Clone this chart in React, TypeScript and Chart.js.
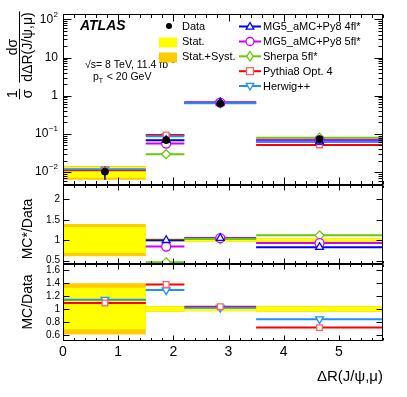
import React, { useEffect, useRef } from "react";
import { Chart, registerables } from "chart.js";
Chart.register(...registerables);

// ---------------- data ----------------
const binLo = [0, 1.5, 2.2, 3.5];
const binHi = [1.5, 2.2, 3.5, 5.8];
const markerX = [0.76, 1.87, 2.85, 4.65];

const dataXs = [0.0103, 0.069, 0.63, 0.072];
const statUp = [1.325, 1.04, 1.03, 1.04];
const statDn = [0.69, 0.96, 0.97, 0.96];
const totUp = [1.395, 1.045, 1.035, 1.045];
const totDn = [0.61, 0.955, 0.965, 0.955];

const mg4flXs = [null, 0.0685, 0.66, 0.063];
const mg5flXs = [null, 0.056, 0.66, 0.069];
const sherpaXs = [null, 0.0295, 0.65, 0.08];
const pythiaXs = [0.0112, 0.094, 0.65, 0.0515];
const herwigXs = [0.0118, 0.087, 0.64, 0.061];

const mg4flRatio = [null, 1.0, 1.05, 0.83];
const mg5flRatio = [null, 0.845, 1.05, 0.93];
const sherpaRatio = [null, 0.46, 1.03, 1.12];
const pythiaRatio = [1.093, 1.376, 1.036, 0.715];
const herwigRatio = [1.144, 1.29, 1.02, 0.845];

const seriesNames = ["MG5_aMC+Py8 4fl*", "MG5_aMC+Py8 5fl*", "Sherpa 5fl*", "Pythia8 Opt. 4", "Herwig++"];
const lineColors = ["#0000ff", "#cc00ff", "#66cc00", "#ff0000", "#1e90ff"];
const markColors = ["#0000ff", "#cc00ff", "#66cc00", "#ff6060", "#1e90ff"];
const markStyles = ["triangle", "circle", "rectRot", "rect", "triangle"];
const markRot = [0, 0, 0, 0, 180];

const xTickVals = [0, 1, 2, 3, 4, 5];
const xTickLabels = ["0", "1", "2", "3", "4", "5"];
const topTickVals = [0.01, 0.1, 1, 10, 100];
const topTickBase = ["10", "10", "1", "10", "10"];
const topTickExp = ["\u22122", "\u22121", "", "", "2"];
const midTickVals = [0.5, 1, 1.5, 2];
const midTickLabels = ["0.5", "1", "1.5", "2"];
const botTickVals = [0.6, 0.8, 1, 1.2, 1.4, 1.6];
const botTickLabels = ["0.6", "0.8", "1", "1.2", "1.4", "1.6"];

const FONT = '"Liberation Sans", Arial, Helvetica, sans-serif';

function segs(vals: (number | null)[]) {
  const out: any[] = [];
  vals.forEach((v, i) => {
    if (v == null) return;
    out.push({ x: binLo[i], y: v }, { x: binHi[i], y: v }, { x: binHi[i], y: null });
  });
  return out;
}
function marks(vals: (number | null)[]) {
  const out: any[] = [];
  vals.forEach((v, i) => {
    if (v == null) return;
    out.push({ x: markerX[i], y: v });
  });
  return out;
}

function buildDatasets() {
  const ds: any[] = [];
  ds.push({
    type: "line",
    data: marks(dataXs),
    yAxisID: "yTop",
    showLine: false,
    pointStyle: "circle",
    pointRadius: 3.5,
    pointBackgroundColor: "#000",
    pointBorderColor: "#000",
    pointBorderWidth: 1,
  });
  const topVals = [mg4flXs, mg5flXs, sherpaXs, pythiaXs, herwigXs];
  const ratioVals = [mg4flRatio, mg5flRatio, sherpaRatio, pythiaRatio, herwigRatio];
  const ratioAxis = ["yMid", "yMid", "yMid", "yBot", "yBot"];
  const markerSets: any[] = [];
  const lineSets: any[] = [];
  for (let k = 0; k < 5; k++) {
    const pairs: [any[], string][] = [
      [topVals[k], "yTop"],
      [ratioVals[k], ratioAxis[k]],
    ];
    for (const [vals, axis] of pairs) {
      markerSets.push({
        type: "line",
        data: marks(vals),
        yAxisID: axis,
        showLine: false,
        pointStyle: markStyles[k],
        rotation: markRot[k],
        pointRadius: markStyles[k] === "rect" ? 4 : 4.5,
        pointBackgroundColor: "#ffffff",
        pointBorderColor: markColors[k],
        pointBorderWidth: 1.3,
      });
      lineSets.push({
        type: "line",
        data: segs(vals),
        yAxisID: axis,
        borderColor: lineColors[k],
        borderWidth: 2,
        pointRadius: 0,
        spanGaps: false,
        fill: false,
      });
    }
  }
  return ds.concat(markerSets, lineSets.reverse());
}

function drawMarker(ctx: CanvasRenderingContext2D, style: string, rot: number, x: number, y: number, r: number, color: string) {
  ctx.save();
  ctx.strokeStyle = color;
  ctx.fillStyle = "#fff";
  ctx.lineWidth = 1.3;
  ctx.beginPath();
  if (style === "circle") {
    ctx.arc(x, y, r, 0, Math.PI * 2);
  } else if (style === "rect") {
    ctx.rect(x - r, y - r, 2 * r, 2 * r);
  } else if (style === "rectRot") {
    ctx.moveTo(x, y - r * 1.2);
    ctx.lineTo(x + r * 0.8, y);
    ctx.lineTo(x, y + r * 1.2);
    ctx.lineTo(x - r * 0.8, y);
    ctx.closePath();
  } else {
    const s = rot === 180 ? -1 : 1;
    ctx.moveTo(x, y - s * r);
    ctx.lineTo(x + r * 0.95, y + s * r * 0.65);
    ctx.lineTo(x - r * 0.95, y + s * r * 0.65);
    ctx.closePath();
  }
  ctx.fill();
  ctx.stroke();
  ctx.restore();
}

const panelPlugin = {
  id: "atlasPanels",
  beforeDatasetsDraw(chart: any) {
    const { ctx, chartArea } = chart;
    const xs = chart.scales.x;
    const panels: [string, boolean][] = [["yTop", true], ["yMid", false], ["yBot", false]];
    for (const [id, isTop] of panels) {
      const s = chart.scales[id];
      ctx.save();
      ctx.beginPath();
      ctx.rect(chartArea.left, s.top, chartArea.right - chartArea.left, s.bottom - s.top);
      ctx.clip();
      for (let i = 0; i < binLo.length; i++) {
        const x0 = xs.getPixelForValue(binLo[i]);
        const x1 = xs.getPixelForValue(binHi[i]);
        const base = isTop ? dataXs[i] : 1;
        const oT = s.getPixelForValue(base * totUp[i]);
        const oB = s.getPixelForValue(base * totDn[i]);
        ctx.fillStyle = "#ffcc00";
        ctx.fillRect(x0, oT, x1 - x0, oB - oT);
        const yT = s.getPixelForValue(base * statUp[i]);
        const yB = s.getPixelForValue(base * statDn[i]);
        ctx.fillStyle = "#ffff00";
        ctx.fillRect(x0, yT, x1 - x0, yB - yT);
      }
      if (isTop) {
        ctx.strokeStyle = "#000";
        ctx.lineWidth = 1.5;
        for (let i = 0; i < binLo.length; i++) {
          const xm = xs.getPixelForValue(markerX[i]);
          ctx.beginPath();
          ctx.moveTo(xm, s.getPixelForValue(dataXs[i] * totUp[i]));
          ctx.lineTo(xm, s.getPixelForValue(dataXs[i] * totDn[i]));
          ctx.stroke();
        }
      }
      ctx.restore();
    }
  },
  afterDraw(chart: any) {
    const { ctx, chartArea } = chart;
    const xs = chart.scales.x;
    const L = Math.round(chartArea.left) + 0.5;
    const R = Math.round(chartArea.right) - 0.5;
    ctx.save();
    ctx.strokeStyle = "#000";
    ctx.fillStyle = "#000";
    ctx.lineWidth = 1;

    const panels: [string, number][] = [["yTop", 0], ["yMid", 1], ["yBot", 2]];
    for (const [id, p] of panels) {
      const s = chart.scales[id];
      const T = Math.round(s.top) + 0.5;
      const B = Math.round(s.bottom) - 0.5;
      ctx.strokeRect(L, T, R - L, B - T);
      const majL = p === 0 ? 7 : 5;
      const minL = p === 0 ? 3.5 : 2.5;
      ctx.beginPath();
      for (let k = 0; k <= 29; k++) {
        const v = k * 0.2;
        if (v > 5.8001) break;
        const x = Math.round(xs.getPixelForValue(v)) + 0.5;
        const len = k % 5 === 0 ? majL : minL;
        ctx.moveTo(x, B);
        ctx.lineTo(x, B - len);
        ctx.moveTo(x, T);
        ctx.lineTo(x, T + len);
      }
      ctx.stroke();
      // y ticks
      ctx.beginPath();
      if (p === 0) {
        for (let d = -3; d <= 2; d++) {
          for (let m = 1; m <= 9; m++) {
            const v = m * Math.pow(10, d);
            if (v < s.min || v > s.max) continue;
            const y = Math.round(s.getPixelForValue(v)) + 0.5;
            const len = m === 1 ? 8 : 4;
            ctx.moveTo(L, y);
            ctx.lineTo(L + len, y);
            ctx.moveTo(R, y);
            ctx.lineTo(R - len, y);
          }
        }
      } else {
        const vals = p === 1 ? midTickVals : botTickVals;
        for (const v of vals) {
          const y = Math.round(s.getPixelForValue(v)) + 0.5;
          ctx.moveTo(L, y);
          ctx.lineTo(L + 6, y);
          ctx.moveTo(R, y);
          ctx.lineTo(R - 6, y);
        }
      }
      ctx.stroke();
      // y tick labels
      ctx.textBaseline = "middle";
      if (p === 0) {
        for (let i = 0; i < topTickVals.length; i++) {
          const y = s.getPixelForValue(topTickVals[i]);
          ctx.font = `12px ${FONT}`;
          const wb = ctx.measureText(topTickBase[i]).width;
          ctx.font = `8px ${FONT}`;
          const we = topTickExp[i] ? ctx.measureText(topTickExp[i]).width + 0.5 : 0;
          const right = 58;
          ctx.textAlign = "left";
          ctx.font = `12px ${FONT}`;
          ctx.fillText(topTickBase[i], right - we - wb, y);
          if (topTickExp[i]) {
            ctx.font = `8px ${FONT}`;
            ctx.fillText(topTickExp[i], right - we + 0.5, y - 5);
          }
        }
      } else {
        const vals = p === 1 ? midTickVals : botTickVals;
        const labs = p === 1 ? midTickLabels : botTickLabels;
        ctx.font = `10px ${FONT}`;
        ctx.textAlign = "right";
        for (let i = 0; i < vals.length; i++) {
          ctx.fillText(labs[i], 60, s.getPixelForValue(vals[i]));
        }
      }
    }

    // x tick labels
    ctx.font = `14px ${FONT}`;
    ctx.textAlign = "center";
    ctx.textBaseline = "middle";
    for (let i = 0; i < xTickVals.length; i++) {
      ctx.fillText(xTickLabels[i], xs.getPixelForValue(xTickVals[i]), 352);
    }
    // x title
    ctx.font = `15px ${FONT}`;
    ctx.textAlign = "right";
    ctx.fillText("\u0394R(J/\u03c8,\u03bc)", 383, 377);

    // ratio y titles
    const drawRot = (txt: string, cx: number, cy: number, size: number) => {
      ctx.save();
      ctx.translate(cx, cy);
      ctx.rotate(-Math.PI / 2);
      ctx.font = `${size}px ${FONT}`;
      ctx.textAlign = "center";
      ctx.textBaseline = "middle";
      ctx.fillText(txt, 0, 0);
      ctx.restore();
    };
    drawRot("MC*/Data", 28, 229, 14);
    drawRot("MC/Data", 28, 302, 14);

    // main y title: (1/sigma) dsigma/dDeltaR
    const frac = (num: string, den: string, cx: number, cy: number, size: number) => {
      ctx.save();
      ctx.translate(cx, cy);
      ctx.rotate(-Math.PI / 2);
      ctx.font = `${size}px ${FONT}`;
      ctx.textAlign = "center";
      const w = Math.max(ctx.measureText(num).width, ctx.measureText(den).width);
      ctx.textBaseline = "alphabetic";
      ctx.fillText(num, 0, -3);
      ctx.textBaseline = "top";
      ctx.fillText(den, 0, 2);
      ctx.lineWidth = 1;
      ctx.beginPath();
      ctx.moveTo(-w / 2 - 1, 0);
      ctx.lineTo(w / 2 + 1, 0);
      ctx.stroke();
      ctx.restore();
    };
    frac("d\u03c3", "d\u0394R(J/\u03c8,\u03bc)", 19.5, 47, 14);
    frac("1", "\u03c3", 19.5, 94, 14);

    // ATLAS label & texts
    ctx.textAlign = "left";
    ctx.textBaseline = "middle";
    ctx.font = `italic bold 14px ${FONT}`;
    ctx.fillText("ATLAS", 80, 26);
    ctx.font = `10.5px ${FONT}`;
    const t1 = "\u221as= 8 TeV, 11.4 fb";
    ctx.fillText(t1, 85, 65);
    const w1 = ctx.measureText(t1).width;
    ctx.font = `7px ${FONT}`;
    ctx.fillText("-1", 85 + w1 + 0.5, 61);
    ctx.font = `10.5px ${FONT}`;
    ctx.fillText("p", 93, 77);
    const wp = ctx.measureText("p").width;
    ctx.font = `7px ${FONT}`;
    ctx.fillText("T", 93 + wp, 81);
    ctx.font = `10.5px ${FONT}`;
    ctx.fillText(" < 20 GeV", 93 + wp + 5, 77);

    // legend left column
    ctx.font = `11px ${FONT}`;
    ctx.beginPath();
    ctx.arc(169, 26, 3, 0, Math.PI * 2);
    ctx.fill();
    ctx.fillText("Data", 182, 26.5);
    ctx.fillStyle = "#ffff00";
    ctx.fillRect(159, 37.5, 18, 10);
    ctx.fillStyle = "#ffcc00";
    ctx.fillRect(159, 52.5, 18, 10);
    ctx.fillStyle = "#000";
    ctx.fillText("Stat.", 182, 42);
    ctx.fillText("Stat.+Syst.", 182, 57);
    // legend right column
    const rowY = [26.5, 41.5, 56.3, 71.2, 86];
    for (let k = 0; k < 5; k++) {
      const y = rowY[k];
      ctx.strokeStyle = lineColors[k];
      ctx.lineWidth = 2;
      ctx.beginPath();
      ctx.moveTo(239, y);
      ctx.lineTo(261, y);
      ctx.stroke();
      drawMarker(ctx, markStyles[k], markRot[k], 250, y, markStyles[k] === "rect" ? 3.5 : 4, markColors[k]);
      ctx.fillStyle = "#000";
      ctx.font = `11px ${FONT}`;
      ctx.fillText(seriesNames[k], 263, y + 0.5);
    }
    ctx.restore();
  },
};

export default function App() {
  const ref = useRef<HTMLCanvasElement | null>(null);
  useEffect(() => {
    if (!ref.current) return;
    const hidden = {
      ticks: { display: false },
      grid: { display: false },
      border: { display: false },
    };
    const chart = new Chart(ref.current, {
      type: "line",
      data: { datasets: buildDatasets() },
      options: {
        animation: false,
        responsive: false,
        devicePixelRatio: 1,
        events: [],
        layout: { padding: { top: 14, right: 24, left: 0, bottom: 0 } },
        plugins: { legend: { display: false }, tooltip: { enabled: false } },
        scales: {
          x: {
            type: "linear",
            min: 0,
            max: 5.8,
            ...hidden,
            afterFit: (s: any) => {
              s.height = 56;
            },
          },
          yBot: {
            type: "linear",
            position: "left",
            stack: "panels",
            stackWeight: 77,
            min: 0.51,
            max: 1.69,
            ...hidden,
            afterFit: (s: any) => {
              s.width = 63;
            },
          },
          yMid: {
            type: "linear",
            position: "left",
            stack: "panels",
            stackWeight: 79,
            min: 0.42,
            max: 2.35,
            ...hidden,
            afterFit: (s: any) => {
              s.width = 63;
            },
          },
          yTop: {
            type: "logarithmic",
            position: "left",
            stack: "panels",
            stackWeight: 171,
            min: 0.0046,
            max: 138,
            ...hidden,
            afterFit: (s: any) => {
              s.width = 63;
            },
          },
        },
      } as any,
      plugins: [panelPlugin],
    });
    return () => chart.destroy();
  }, []);
  return (
    <div style={{ position: "absolute", left: 0, top: 0, width: 407, height: 397, background: "#fff" }}>
      <canvas ref={ref} width={407} height={397} style={{ display: "block", width: 407, height: 397 }} />
    </div>
  );
}
